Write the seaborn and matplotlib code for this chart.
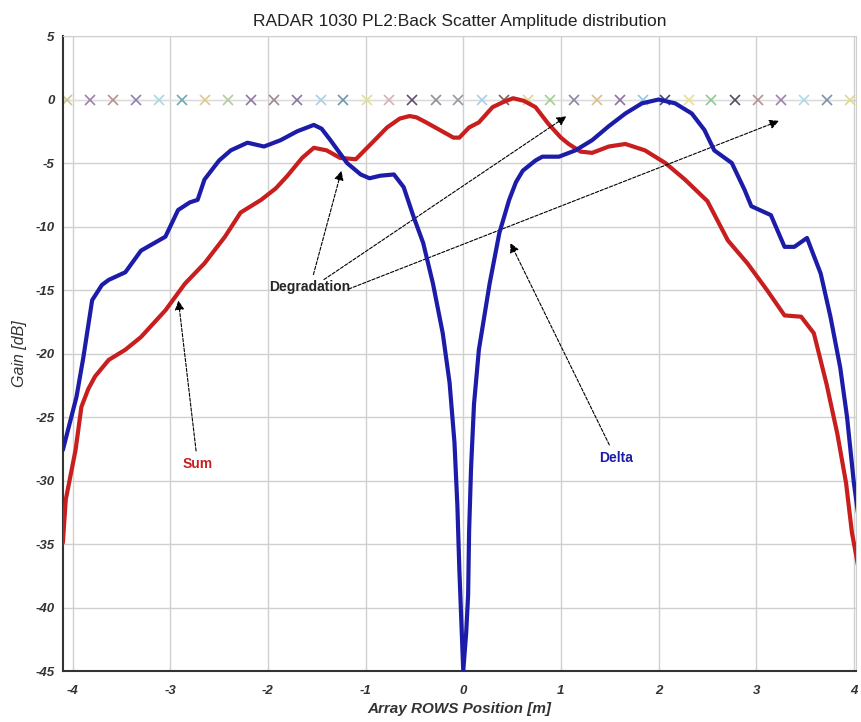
import numpy as np
import pandas as pd
import matplotlib
matplotlib.use("Agg")
import matplotlib.pyplot as plt
import seaborn as sns

# Delta curve (blue)
delta_x = [-4.10, -3.96, -3.89, -3.80, -3.70, -3.63, -3.46, -3.30, -3.05, -2.92,
           -2.80, -2.72, -2.65, -2.50, -2.38, -2.21, -2.04, -1.87, -1.70, -1.53,
           -1.45, -1.36, -1.19, -1.05, -0.96, -0.85, -0.71, -0.61, -0.51, -0.41,
           -0.31, -0.21, -0.14, -0.09, -0.06, -0.04, -0.02, 0.00, 0.03, 0.05,
           0.06, 0.08, 0.11, 0.16, 0.27, 0.37, 0.47, 0.54, 0.61, 0.74,
           0.81, 0.98, 1.15, 1.32, 1.49, 1.66, 1.83, 2.00, 2.17, 2.34,
           2.47, 2.57, 2.75, 2.88, 2.95, 3.15, 3.29, 3.39, 3.52, 3.66,
           3.76, 3.86, 3.93, 4.00, 4.05]
delta_y = [-27.6, -23.4, -20.3, -15.8, -14.6, -14.2, -13.6, -11.9, -10.8, -8.7,
           -8.1, -7.9, -6.3, -4.8, -4.0, -3.4, -3.7, -3.2, -2.5, -2.0,
           -2.3, -3.2, -5.0, -5.9, -6.2, -6.0, -5.9, -6.9, -9.2, -11.3,
           -14.5, -18.4, -22.3, -27.0, -32.0, -37.0, -41.0, -45.0, -42.0, -39.0,
           -34.0, -29.0, -24.0, -19.7, -14.5, -10.5, -7.9, -6.5, -5.6, -4.8,
           -4.5, -4.5, -4.0, -3.2, -2.1, -1.1, -0.3, 0.0, -0.3, -1.1,
           -2.4, -4.0, -5.0, -7.1, -8.4, -9.1, -11.6, -11.6, -10.9, -13.7,
           -17.1, -21.1, -25.0, -30.2, -33.0]

# Sum curve (red)
sum_x = [-4.10, -4.07, -3.97, -3.91, -3.84, -3.77, -3.63, -3.46, -3.30, -3.05,
         -2.85, -2.65, -2.44, -2.28, -2.07, -1.92, -1.80, -1.65, -1.53, -1.40,
         -1.26, -1.10, -0.92, -0.78, -0.65, -0.55, -0.48, -0.38, -0.24, -0.10,
         -0.04, 0.06, 0.16, 0.30, 0.41, 0.51, 0.62, 0.74, 0.87, 1.00,
         1.08, 1.20, 1.32, 1.49, 1.66, 1.86, 2.07, 2.27, 2.50, 2.71,
         2.91, 3.11, 3.29, 3.46, 3.59, 3.72, 3.83, 3.92, 3.98, 4.05]
sum_y = [-34.9, -31.5, -27.6, -24.2, -22.8, -21.8, -20.5, -19.7, -18.7, -16.6,
         -14.5, -12.9, -10.8, -8.9, -7.9, -7.0, -6.0, -4.6, -3.8, -4.0,
         -4.6, -4.7, -3.3, -2.2, -1.5, -1.3, -1.4, -1.8, -2.4, -3.0,
         -3.0, -2.2, -1.8, -0.6, -0.2, 0.1, -0.1, -0.6, -1.9, -3.0,
         -3.5, -4.1, -4.2, -3.7, -3.5, -4.0, -5.0, -6.3, -8.0, -11.1,
         -12.9, -15.0, -17.0, -17.1, -18.4, -22.4, -26.3, -30.2, -34.1, -37.0]

# element positions (x markers on the 0 dB line)
elem_x = [-4.06, -3.82, -3.59, -3.35, -3.12, -2.88, -2.64, -2.41, -2.17, -1.94,
          -1.70, -1.46, -1.23, -0.99, -0.76, -0.52, -0.28, -0.05, 0.19, 0.42,
          0.66, 0.89, 1.13, 1.37, 1.60, 1.84, 2.07, 2.31, 2.54, 2.78,
          3.02, 3.25, 3.49, 3.72, 3.96]
elem_y = [0.0] * len(elem_x)
elem_colors = ["#c8c890", "#a080a8", "#b89090", "#9080b0", "#a8d8e0", "#70a8b0",
               "#e0c890", "#b8c8a0", "#9078a0", "#a08890", "#8878a0", "#a8d0e8",
               "#7098a8", "#e0e090", "#d8b0b8", "#605070", "#909098", "#9898a0",
               "#a8d0e8", "#806060", "#e0d890", "#a0d090", "#8888a0", "#d8c090",
               "#9070a0", "#90c8e8", "#404880", "#e8e090", "#90c890", "#505060",
               "#b89090", "#a080b0", "#b0d8e8", "#8090a8", "#e0d890"]

x_ticks = [-4, -3, -2, -1, 0, 1, 2, 3, 4]
y_ticks = [5, 0, -5, -10, -15, -20, -25, -30, -35, -40, -45]

sns.set_style("white")
plt.rcParams['font.family'] = ['Liberation Sans', 'DejaVu Sans']
plt.rcParams['axes.unicode_minus'] = False

fig = plt.figure(figsize=(8.61, 7.22), dpi=100)
ax = fig.add_axes([0.073, 0.0706, 0.921, 0.8795])

ax.grid(True, color="#d0d0d0", linewidth=1.0)
ax.set_axisbelow(True)

sns.lineplot(x=elem_x, y=elem_y, ax=ax, color="#dcdcdc", linewidth=0.8,
             estimator=None, zorder=1)
for xx, yy, cc in zip(elem_x, elem_y, elem_colors):
    ax.plot(xx, yy, marker="x", color=cc, markersize=7, markeredgewidth=1.2,
            linestyle="none", zorder=2)

sns.lineplot(x=delta_x, y=delta_y, ax=ax, color="#1c1ca8", linewidth=3.0,
             estimator=None, zorder=4)
sns.lineplot(x=sum_x, y=sum_y, ax=ax, color="#c81e1e", linewidth=3.0,
             estimator=None, zorder=3)

ax.set_xlim(-4.1, 4.02)
ax.set_ylim(-45, 5)
ax.set_xticks(x_ticks)
ax.set_yticks(y_ticks)
ax.tick_params(direction="in", length=7, width=1, colors="#333333",
               labelsize=9.5)
for lab in ax.get_xticklabels() + ax.get_yticklabels():
    lab.set_fontweight("bold")
    lab.set_fontstyle("italic")
ax.tick_params(axis="x", pad=10)
ax.tick_params(axis="y", pad=6)

for side in ["left", "bottom"]:
    ax.spines[side].set_color("#333333")
    ax.spines[side].set_linewidth(1.5)
ax.spines["top"].set_color("#d0d0d0")
ax.spines["right"].set_color("#d0d0d0")

ax.set_title("RADAR 1030 PL2:Back Scatter Amplitude distribution",
             fontsize=12.5, color="#222222", pad=7)
ax.set_xlabel("Array ROWS Position [m]", fontsize=11, fontstyle="italic",
              fontweight="bold", color="#333333", labelpad=4)
ax.set_ylabel("Gain [dB]", fontsize=11.5, fontstyle="italic", color="#333333",
              labelpad=6)

arrow = dict(arrowstyle="-|>", color="black", lw=0.8, linestyle=(0, (3, 1.5)),
             mutation_scale=14)
ax.annotate("Degradation", xy=(-1.24, -5.4), xytext=(-1.57, -14.8),
            fontsize=10, fontweight="bold", ha="center", va="center",
            arrowprops=arrow)
ax.annotate("", xy=(1.08, -1.2), xytext=(-1.45, -14.3), arrowprops=arrow)
ax.annotate("", xy=(3.26, -1.6), xytext=(-1.2, -15.0), arrowprops=arrow)
ax.annotate("Sum", xy=(-2.92, -15.6), xytext=(-2.72, -28.7), fontsize=10,
            fontweight="bold", color="#c81e1e", ha="center", va="center",
            arrowprops=arrow)
ax.annotate("Delta", xy=(0.47, -11.1), xytext=(1.56, -28.2), fontsize=10,
            fontweight="bold", color="#1c1ca8", ha="center", va="center",
            arrowprops=arrow)

fig.savefig("out.png", dpi=100)
